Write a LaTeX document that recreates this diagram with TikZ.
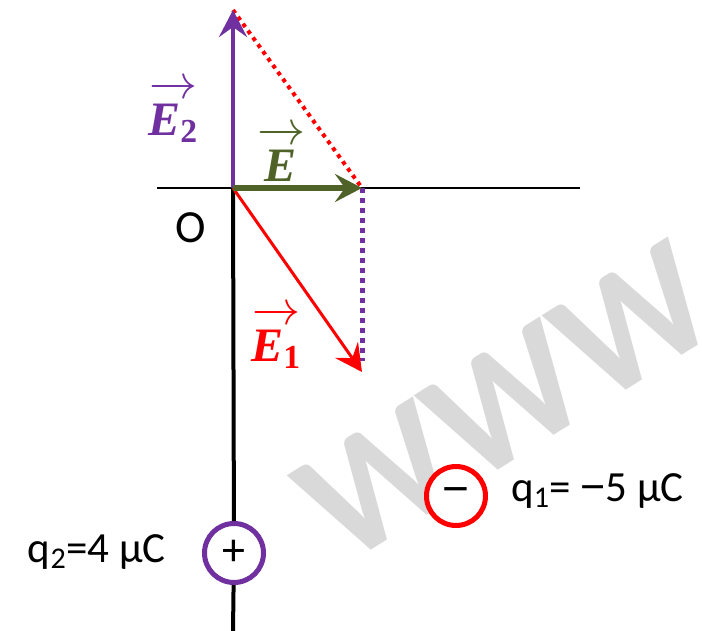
\RequirePackage{fix-cm}
\documentclass[tikz,border=0pt]{standalone}
\usepackage{amsmath}
\usepackage{fontspec}
\setmainfont{Carlito}
\newfontfamily\vecfont{Liberation Serif}
\newfontfamily\minusfont{Liberation Sans}
\usetikzlibrary{arrows.meta}

\definecolor{fieldpurple}{HTML}{7030A0}
\definecolor{fieldgreen}{HTML}{4F6228}
\definecolor{markgray}{HTML}{D9D9D9}

\newcommand{\fieldvec}[2]{$\overrightarrow{\rule{0pt}{0.76em}\text{\vecfont\bfseries\itshape #1}_{\text{\vecfont\bfseries #2}}}$}
\newcommand{\chargeminus}{{\minusfont −}}

\begin{document}
\begin{tikzpicture}[
  x=1pt, y=-1pt,
  axis/.style   = {draw=black, line width=1.5pt},
  rail/.style   = {draw=black, line width=4pt},
  field/.style  = {-{Stealth[length=27pt,width=28pt,inset=10pt]}},
  guide/.style  = {line width=4pt, dash pattern=on 4pt off 4.5pt},
  charge/.style = {circle, draw, fill=white, line width=5pt, minimum size=59pt,
    inner sep=0pt, font=\fontsize{46}{46}\selectfont},
  txt/.style    = {inner sep=0pt, font=\fontsize{43}{46}\selectfont},
  veclabel/.style  = {inner sep=0pt, font=\fontsize{48}{52}\selectfont},
  watermark/.style = {inner sep=0pt, text=markgray, font=\fontsize{166}{166}\selectfont\bfseries},
]
  \useasboundingbox (0,0) rectangle (702,631);
  \begin{scope}
    \clip (0,0) rectangle (702,631);
    \node[watermark, rotate=32] (wm) at (506,402) {WWW};
  \end{scope}

  \coordinate (O) at (233,188);
  \coordinate (axL) at (157,188);
  \coordinate (axR) at (580,188);
  \coordinate (E2tip) at (233,10);
  \coordinate (Etip) at (362,188);
  \coordinate (E1tip) at (362,372);
  \coordinate (foot) at (362,361);
  \coordinate (railend) at (233,631);

  \node[charge, draw=fieldpurple] (q2) at (234,553) {+};
  \node[charge, draw=red] (q1) at (456,496) {\chargeminus};

  \draw[axis] (axL) -- (axR);
  \draw[rail] (O) -- (q2) -- (railend);

  \draw[guide, red] (E2tip) -- (Etip);
  \draw[guide, fieldpurple, line width=5pt, dash pattern=on 5pt off 5pt] (Etip) -- (foot);
  \draw[field, red, line width=3pt] (O) -- (E1tip);
  \draw[field, fieldpurple, line width=4.5pt] (O) -- (E2tip);
  \draw[field, fieldgreen, line width=6pt] (O) -- (Etip);

  \node[txt, font=\fontsize{46}{48}\selectfont] (Olabel) at (191,228) {O};
  \node[txt, anchor=west] (q1label) at (511,491) {q\textsubscript{1}= \chargeminus5 μC};
  \node[txt, anchor=east] (q2label) at (166,552) {q\textsubscript{2}=4 μC};

  \node[veclabel, text=fieldpurple] (E2label) at (173,112) {\fieldvec{E}{2}};
  \node[veclabel, text=fieldgreen] (Elabel) at (281,158) {\fieldvec{E}{}};
  \node[veclabel, text=red] (E1label) at (276,338) {\fieldvec{E}{1}};
\end{tikzpicture}
\end{document}
